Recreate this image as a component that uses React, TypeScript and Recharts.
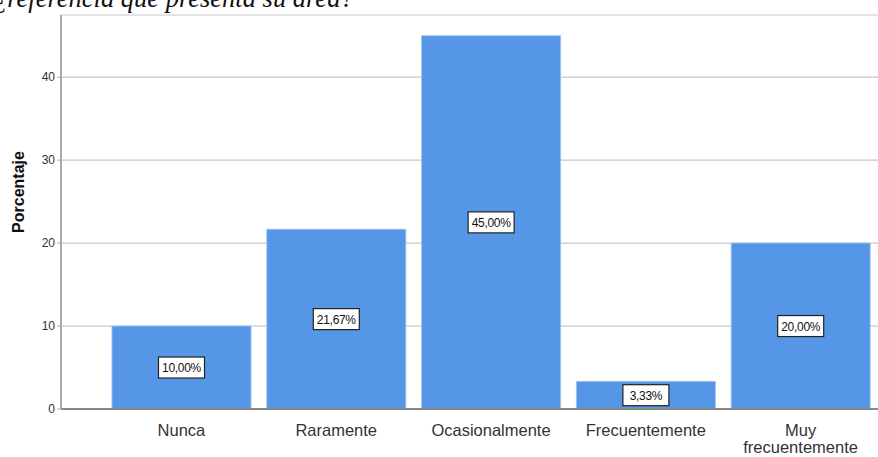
import { Bar, BarChart, CartesianGrid, LabelList, XAxis, YAxis } from 'recharts'

const categories = ['Nunca', 'Raramente', 'Ocasionalmente', 'Frecuentemente', 'Muy frecuentemente']
const percentages = [10.0, 21.67, 45.0, 3.33, 20.0]
const yTicks = [0, 10, 20, 30, 40]

const data = categories.map((c, i) => ({ name: c, pct: percentages[i] }))

function fmtPct(v: number) {
  return v.toFixed(2).replace('.', ',') + '%'
}

function CategoryTick(props: any) {
  const { x, y, payload } = props
  const label: string = payload.value
  const lines = label === 'Muy frecuentemente' ? ['Muy', 'frecuentemente'] : [label]
  return (
    <text
      x={x}
      y={y}
      textAnchor="middle"
      fill="#333"
      fontSize={16.5}
      fontFamily="Liberation Sans, Arial, sans-serif"
    >
      {lines.map((l, i) => (
        <tspan key={l} x={x} dy={i === 0 ? 19 : 17}>
          {l}
        </tspan>
      ))}
    </text>
  )
}

function ValueBox(props: any) {
  const { x, y, width, height, value } = props
  const cx = x + width / 2
  const cy = y + height / 2
  const w = 46
  const h = 21
  return (
    <g>
      <rect x={cx - w / 2} y={cy - h / 2} width={w} height={h} fill="#fff" stroke="#222" strokeWidth={1.2} />
      <text
        x={cx}
        y={cy + 4.5}
        textAnchor="middle"
        fontSize={12}
        letterSpacing={-0.3}
        fill="#111"
        fontFamily="Liberation Sans, Arial, sans-serif"
      >
        {fmtPct(value)}
      </text>
    </g>
  )
}

function AxisTitle() {
  return (
    <text
      x={24}
      y={192}
      transform="rotate(-90, 24, 192)"
      textAnchor="middle"
      fill="#111"
      fontSize={16}
      fontWeight="bold"
      fontFamily="Liberation Sans, Arial, sans-serif"
    >
      Porcentaje
    </text>
  )
}

export default function App() {
  return (
    <div style={{ position: 'absolute', left: 0, top: 0, width: 878, height: 457, background: '#fff', overflow: 'hidden' }}>
      {/* question text from the page above, cut off by the crop */}
      <div
        style={{
          position: 'absolute',
          left: -6,
          top: -17,
          fontFamily: 'Liberation Serif, serif',
          fontStyle: 'italic',
          fontSize: 26.5,
          color: '#111',
          whiteSpace: 'nowrap',
        }}
      >
        ¿referencia que presenta su área?
      </div>
      <BarChart
        width={878}
        height={457}
        data={data}
        margin={{ top: 15, right: 0, bottom: 0, left: 0 }}
        barSize={139}
      >
        <CartesianGrid vertical={false} stroke="#c8c8c8" strokeWidth={1.2} />
        <XAxis
          dataKey="name"
          interval={0}
          height={48}
          padding={{ left: 43, right: 0 }}
          axisLine={{ stroke: '#888', strokeWidth: 2 }}
          tickLine={false}
          tick={<CategoryTick />}
        />
        <YAxis
          width={61}
          domain={[0, 47.5]}
          ticks={yTicks}
          axisLine={{ stroke: '#aaa', strokeWidth: 2 }}
          tickLine={{ stroke: '#aaa' }}
          tickSize={4}
          tick={{ fill: '#333', fontSize: 12, fontFamily: 'Liberation Sans, Arial, sans-serif' }}
          label={<AxisTitle />}
        />
        <Bar dataKey="pct" fill="#5596e6" stroke="#9cc0ef" strokeWidth={1} isAnimationActive={false}>
          <LabelList dataKey="pct" content={<ValueBox />} />
        </Bar>
      </BarChart>
    </div>
  )
}
